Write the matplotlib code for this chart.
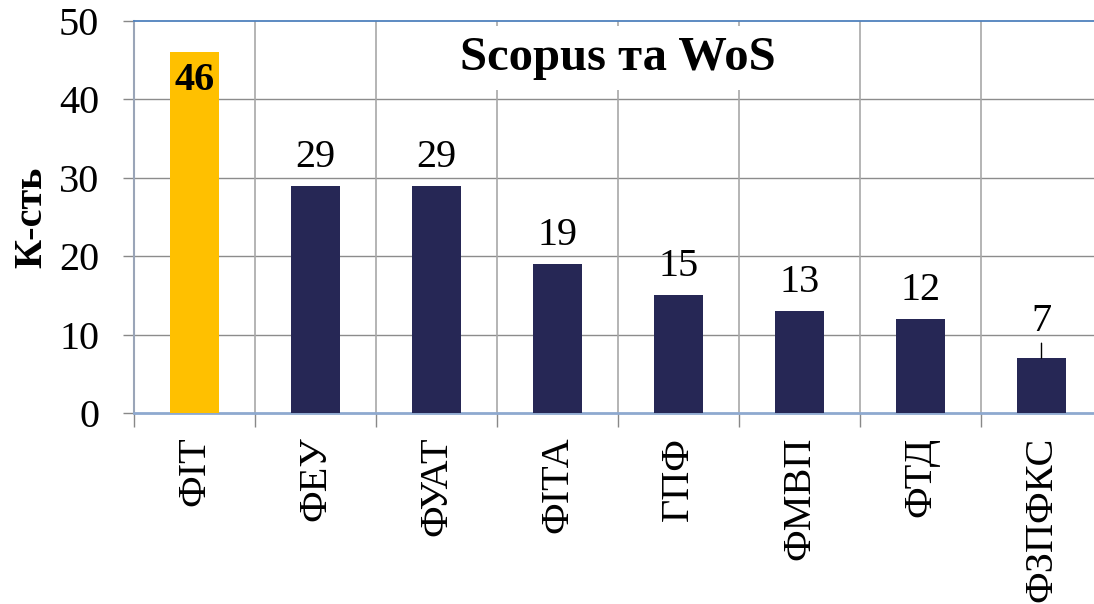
import matplotlib
matplotlib.use("Agg")
import matplotlib.pyplot as plt
import numpy as np

categories = ["ФІТ", "ФЕУ", "ФУАТ", "ФІТА", "ГПФ", "ФМВП", "ФТД", "ФЗПФКС"]
values = [46, 29, 29, 19, 15, 13, 12, 7]
yticks = [0, 10, 20, 30, 40, 50]
title = "Scopus та WoS"
ylabel = "К-сть"

plt.rcParams['font.family'] = ['Liberation Serif', 'DejaVu Serif']

fig = plt.figure(figsize=(10.94, 6.04), dpi=100)
L, R, B, T = 134/1094, 1102/1094, 1 - 413/604, 1 - 21/604
ax = fig.add_axes([L, B, R - L, T - B])

x = np.arange(len(categories))
colors = ["#FFC000"] + ["#262755"] * (len(categories) - 1)
ax.bar(x, values, width=0.4, color=colors, zorder=3)

ax.set_xlim(-0.5, len(categories) - 0.5)
ax.set_ylim(0, 50)
ax.set_yticks(yticks)
ax.set_yticklabels([str(v) for v in yticks], fontsize=29)
ax.tick_params(axis='y', length=8, width=1, color="#888888", pad=17, direction='out')

bounds = np.arange(len(categories) + 1) - 0.5
ax.set_xticks(bounds)
ax.set_xticklabels([""] * len(bounds))
ax.set_xticks(x, minor=True)
ax.set_xticklabels(categories, minor=True, rotation=90, fontsize=29)
ax.tick_params(axis='x', which='major', length=10, width=1, color="#888888")
ax.tick_params(axis='x', which='minor', length=0, pad=17)

for v in yticks[1:-1]:
    ax.axhline(v, color="#8C8C8C", lw=1, zorder=1)
for b in bounds[1:]:
    ax.axvline(b, color="#A8A8A8", lw=1.2, zorder=1)

ax.spines['right'].set_visible(False)
ax.spines['top'].set_color("#4F81BD")
ax.spines['top'].set_linewidth(1.3)
ax.spines['top'].set_zorder(8)
ax.spines['bottom'].set_color("#8EA9CF")
ax.spines['bottom'].set_linewidth(2)
ax.spines['left'].set_color("#9AA5B8")
ax.spines['left'].set_linewidth(1.5)

for i, v in enumerate(values):
    if i == 0:
        ax.annotate(str(v), (x[i], v), xytext=(0, -7), textcoords='offset points',
                    ha='center', va='top', fontsize=29, fontweight='bold', zorder=5)
    elif v < 10:
        ax.annotate(str(v), (x[i], v), xytext=(0, 19.5), textcoords='offset points',
                    ha='center', va='baseline', fontsize=29, zorder=5)
        ax.annotate("", (x[i], v), xytext=(x[i], v + 1.9), textcoords='data',
                    arrowprops=dict(arrowstyle='-', color='black', lw=1,
                                    shrinkA=0, shrinkB=0), zorder=5)
    else:
        ax.annotate(str(v), (x[i], v), xytext=(0, 13.7), textcoords='offset points',
                    ha='center', va='baseline', fontsize=29, zorder=5)

ax.text(3.5, 45.3, title, ha='center', va='center', fontsize=35, fontweight='bold',
        zorder=6, bbox=dict(facecolor='white', edgecolor='none', pad=7))

ax.set_ylabel(ylabel, fontsize=29, fontweight='bold', labelpad=6)

fig.savefig("out.png", dpi=100)
